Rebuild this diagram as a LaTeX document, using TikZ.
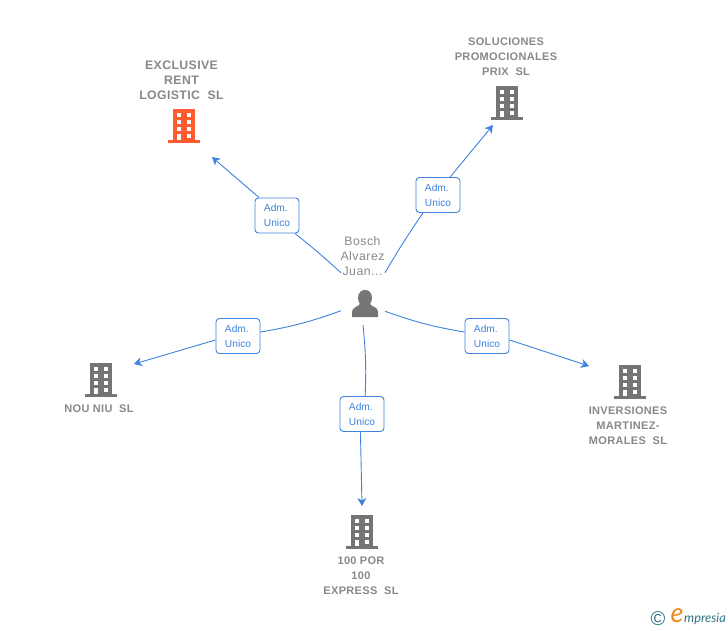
\documentclass[tikz,border=0pt]{standalone}
\usepackage{fontspec}
\setmainfont{Liberation Sans}
\newfontfamily\companyfont[LetterSpace=3]{Liberation Sans}
\newfontfamily\personfont[LetterSpace=4]{Liberation Sans}
\newfontfamily\logofont{Lato}
\usetikzlibrary{arrows.meta}

\definecolor{linkblue}{HTML}{3F82DE}
\definecolor{companygray}{HTML}{757575}
\definecolor{textgray}{HTML}{888888}
\definecolor{hilite}{HTML}{FF5B2E}
\definecolor{logoteal}{HTML}{2F7186}
\definecolor{logoorange}{HTML}{F08A1D}

\tikzset{
    link/.style={draw=linkblue, line width=0.9pt},
    linkarrow/.style={link, -{Stealth[length=8pt,width=9pt,inset=2.5pt]}},
    adm/.style={draw=linkblue, fill=white, line width=0.9pt, rounded corners=3.5pt,
        minimum width=44pt, minimum height=35pt, inner sep=0pt, align=left,
        text=linkblue, font=\fontsize{10.2}{15}\selectfont},
    company/.style={text=textgray, align=center, inner sep=0pt,
        font=\companyfont\bfseries\fontsize{11}{15}\selectfont},
    bldg/.pic={
        \fill[#1] (-11,-17) rectangle (11,14);
        \fill[#1] (-16,14) rectangle (16,17);
        \foreach \x in {-7.5,2.5} {
            \foreach \y in {-13.5,-6.5,0.5} {
                \fill[white] (\x,\y) rectangle ++(4.5,4.5);
            }
        }
        \fill[white] (-7.5,7.5) rectangle ++(4.5,6.5);
        \fill[white] (2.5,7.5) rectangle ++(4.5,4.5);
    }
}

\begin{document}
\begin{tikzpicture}[x=1pt,y=-1pt]
    \useasboundingbox (0,0) rectangle (728,630);

    %persona
    \node[minimum width=44pt, minimum height=52pt, inner sep=0pt] (person) at (363,299) {};
    \fill[companygray] (352,317) -- (352,312) .. controls (352,307) and (358,307) .. (360,304)
        .. controls (356,298) and (358,290) .. (365,290)
        .. controls (372,290) and (374,298) .. (370,304)
        .. controls (372,307) and (378,307) .. (378,312) -- (378,317) -- cycle;
    \node[text=textgray, align=center, inner sep=0pt, font=\personfont\fontsize{12.3}{15}\selectfont]
        (personname) at (362.5,256) {Bosch\\Alvarez\\Juan...};

    %edificios
    \pic at (184,126) {bldg=hilite};
    \foreach \x/\y in {507/103, 101/380, 630/382, 362/532} {
        \pic at (\x,\y) {bldg=companygray};
    }

    %empresas
    \node[company, font=\companyfont\bfseries\fontsize{12.3}{15}\selectfont] (exclusive) at (181.5,80) {EXCLUSIVE\\RENT\\LOGISTIC\ \ SL};
    \node[company] (soluciones) at (506,57) {SOLUCIONES\\PROMOCIONALES\\PRIX\ \ SL};
    \node[company] (nouniu) at (99,409) {NOU NIU\ \ SL};
    \node[company] (inversiones) at (628,426) {INVERSIONES\\MARTINEZ-\\MORALES\ \ SL};
    \node[company] (cienpor) at (361,576) {100 POR\\100\\EXPRESS\ \ SL};

    %extremos de las flechas
    \coordinate (tipExclusive) at (212,157);
    \coordinate (tipSoluciones) at (493,125);
    \coordinate (tipNouNiu) at (134,364);
    \coordinate (tipInversiones) at (589,366);
    \coordinate (tipCienPor) at (362,506);

    \foreach \name/\pos/\ang/\inpt/\outpt/\tip/\curve in {
        admExclusive/{277,215.5}/130/-45/135/tipExclusive/-2,
        admSoluciones/{438,195}/50/-130/56/tipSoluciones/2,
        admNouNiu/{238,336}/208.6/10/190/tipNouNiu/5,
        admInversiones/{487,336}/331.4/170/-10/tipInversiones/-5,
        admCienPor/{362,414}/270/80/-95/tipCienPor/4
    } {
        \node[adm] (\name) at (\pos) {Adm.\\Unico};
        \draw[link] (person.\ang) to[bend left=\curve] (\name.\inpt);
        \draw[linkarrow] (\name.\outpt) -- (\tip);
    }

    %marca
    \node[text=logoteal, inner sep=0pt, font=\fontsize{20}{20}\selectfont] (copyr) at (658,619) {\textcopyright};
    \node[text=logoorange, inner sep=0pt, font=\logofont\itshape\fontsize{27}{27}\selectfont] (logoe) at (677,616) {e};
    \node[text=logoteal, inner sep=0pt, anchor=west, font=\logofont\itshape\fontsize{12.8}{12.8}\selectfont] (logotext) at (684,619) {mpresia};
\end{tikzpicture}
\end{document}
